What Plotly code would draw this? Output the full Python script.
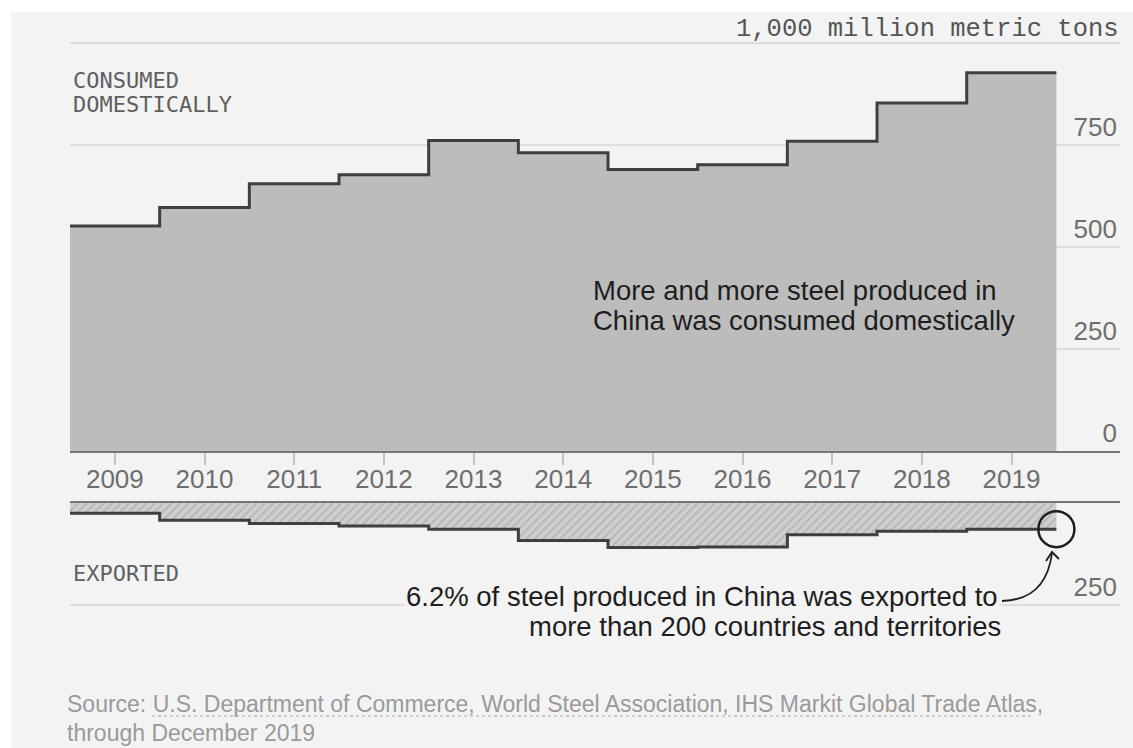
import plotly.graph_objects as go

# ---------------- data ----------------
years = [2009, 2010, 2011, 2012, 2013, 2014, 2015, 2016, 2017, 2018, 2019]
consumed = [551, 596, 654, 676, 760, 730, 689, 701, 758, 852, 926]
exported = [25, 42, 50, 56, 64, 92, 109, 108, 78, 69, 64]
top_ticks = [0, 250, 500, 750, 1000]
top_ticktext = ["0", "250", "500", "750", ""]
bottom_ticks = [250]
bottom_ticktext = ["250"]

# ---------------- geometry helpers ----------------
W, H = 1133, 748
ML, MR, MT, MB = 70, 13, 40, 133
PW, PH = W - ML - MR, H - MT - MB


def px(p):
    return (p - ML) / PW


def py(p):
    return (H - MB - p) / PH


TOP_AXIS_PX = 451
BOT_AXIS_PX = 503
SCALE = 0.4085  # px per unit
X0 = years[0] - 0.5
XPX = 89.67
x_range = [X0, X0 + PW / XPX]


def xd(p):
    return X0 + (p - ML) / XPX


def y2d(p):
    return (p - BOT_AXIS_PX) / SCALE


top_dom = [py(TOP_AXIS_PX), 1]
bot_dom = [0, py(BOT_AXIS_PX)]
top_range = [0, (TOP_AXIS_PX - MT) / SCALE]
bot_range = [(H - MB - BOT_AXIS_PX) / SCALE, 0]

xs = [y - 0.5 for y in years] + [years[-1] + 0.5]
cons_s = consumed + [consumed[-1]]
exp_s = exported + [exported[-1]]

BG = "#f3f3f3"
GRID = "#dedede"
LINE = "#3f3f3f"
TICKC = "#6e6e6e"
SANS = "Liberation Sans, Arial, sans-serif"
MONO = "DejaVu Sans Mono, Liberation Mono, monospace"

fig = go.Figure()
fig.add_trace(go.Scatter(
    x=xs, y=cons_s, mode="lines", line=dict(shape="hv", color=LINE, width=3),
    fill="tozeroy", fillcolor="#bcbcbc", xaxis="x", yaxis="y", hoverinfo="skip",
    showlegend=False))
fig.add_trace(go.Scatter(
    x=xs, y=exp_s, mode="lines", line=dict(shape="hv", color=LINE, width=3),
    fill="tozeroy", fillcolor="#cfcfcf",
    fillpattern=dict(shape="/", bgcolor="#cfcfcf", fgcolor="#a0a0a0", size=6, solidity=0.35),
    xaxis="x2", yaxis="y2", hoverinfo="skip", showlegend=False))

shapes = [
    # page background with the thin white frame on the left/top
    dict(type="rect", xref="paper", yref="paper", x0=px(11), x1=px(W + 5), y0=py(H + 5), y1=py(12),
         fillcolor=BG, line=dict(width=0), layer="below"),
    # circle highlighting last export value
    dict(type="circle", xref="x2", yref="y2", xsizemode="pixel", ysizemode="pixel",
         xanchor=years[-1] + 0.5, yanchor=exported[-1], x0=-18, x1=18, y0=-18, y1=18,
         line=dict(color="#1e1e1e", width=2.5)),
    # curved arrow
    dict(type="path", xref="x2", yref="y2",
         path=f"M {xd(1002)},{y2d(601)} Q {xd(1046)},{y2d(600)} {xd(1052)},{y2d(553)}",
         line=dict(color="#1e1e1e", width=1.8)),
    dict(type="path", xref="x2", yref="y2",
         path=f"M {xd(1046)},{y2d(561)} L {xd(1052)},{y2d(552)} L {xd(1059)},{y2d(559)}",
         line=dict(color="#1e1e1e", width=1.8)),
    # dotted underline of source names
    dict(type="line", xref="paper", yref="paper", x0=px(152), x1=px(1032), y0=py(716), y1=py(716),
         line=dict(color="#a8a8a8", width=1, dash="dot")),
]

ann = []


def text(t, x, y, size, color, family=SANS, xanchor="left", bg=None):
    d = dict(text=t, xref="paper", yref="paper", x=px(x), y=py(y), xanchor=xanchor,
             yanchor="middle", showarrow=False, font=dict(size=size, color=color, family=family))
    if bg:
        d["bgcolor"] = bg
    ann.append(d)


text("1,000 million metric tons", 1121, 29, 25.5, "#555555", family="Liberation Mono, DejaVu Sans Mono, monospace", xanchor="right")
text("CONSUMED", 71, 80, 22, "#5f5f5f", family=MONO)
text("DOMESTICALLY", 71, 104, 22, "#5f5f5f", family=MONO)
text("EXPORTED", 71, 573, 22, "#5f5f5f", family=MONO)
text("More and more steel produced in", 591, 290, 27.5, "#1e1e1e")
text("China was consumed domestically", 591, 320, 27.5, "#1e1e1e")
text("6.2% of steel produced in China was exported to", 1000, 596, 27.5, "#1e1e1e", xanchor="right", bg=BG)
text("more than 200 countries and territories", 1003, 626, 27.5, "#1e1e1e", xanchor="right")
text("Source: U.S. Department of Commerce, World Steel Association, IHS Markit Global Trade Atlas,",
     65, 704, 23, "#9a9a9a")
text("through December 2019", 65, 733, 23, "#9a9a9a")

fig.update_layout(
    width=W, height=H, autosize=False,
    margin=dict(l=ML, r=MR, t=MT, b=MB, pad=0),
    paper_bgcolor="white", plot_bgcolor="rgba(0,0,0,0)",
    shapes=shapes, annotations=ann,
    xaxis=dict(domain=[0, 1], range=x_range, anchor="y", tickvals=years,
               ticktext=[str(y) for y in years], showgrid=False, zeroline=False,
               showline=True, linecolor="#777777", linewidth=2,
               ticks="outside", ticklen=12, tickwidth=1.5, tickcolor="#c4c4c4",
               ticklabelstandoff=-8,
               tickfont=dict(family=SANS, size=26, color=TICKC)),
    yaxis=dict(domain=top_dom, range=top_range, side="right", tickvals=top_ticks,
               ticktext=top_ticktext, showgrid=True, gridcolor=GRID, gridwidth=1.5,
               zeroline=False, showline=False, ticks="", ticklabelposition="inside top",
               tickfont=dict(family=SANS, size=26, color=TICKC)),
    xaxis2=dict(domain=[0, 1], range=x_range, anchor="y2", side="top", showgrid=False,
                zeroline=False, showline=True, linecolor="#777777", linewidth=2,
                showticklabels=False, ticks=""),
    yaxis2=dict(domain=bot_dom, range=bot_range, side="right", tickvals=bottom_ticks,
                ticktext=bottom_ticktext, showgrid=True, gridcolor=GRID, gridwidth=1.5,
                zeroline=False, showline=False, ticks="", ticklabelposition="inside top",
                tickfont=dict(family=SANS, size=26, color=TICKC)),
)

fig.write_html("out.html", config={"displayModeBar": False},
               post_script="document.body.style.margin='0';")
